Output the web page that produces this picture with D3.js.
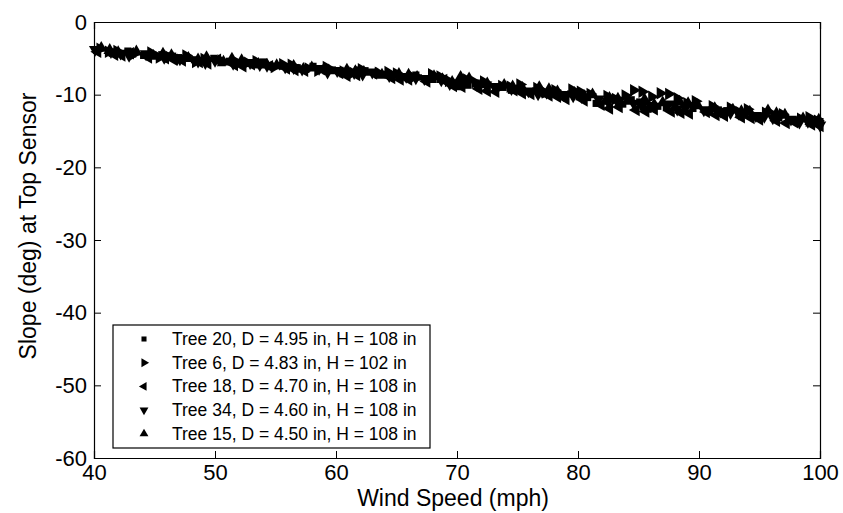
<!DOCTYPE html>
<html>
<head>
<meta charset="utf-8">
<script src="https://cdn.jsdelivr.net/npm/d3@7"></script>
<style>
  body { margin: 0; background: #fff; }
  text { font-family: "Liberation Sans", Arial, Helvetica, sans-serif; fill: #000; }
</style>
</head>
<body>
<div id="chart"></div>
<script>
// tick labels
var xTicks = [40, 50, 60, 70, 80, 90, 100];
var yTicks = [0, -10, -20, -30, -40, -50, -60];

// legend labels
var seriesNames = [
  "Tree 20, D = 4.95 in, H = 108 in",
  "Tree 6, D = 4.83 in, H = 102 in",
  "Tree 18, D = 4.70 in, H = 108 in",
  "Tree 34, D = 4.60 in, H = 108 in",
  "Tree 15, D = 4.50 in, H = 108 in"
];

// wind speed (mph) and slope (deg) per tree
var tree20X = [40.2, 41.5, 42.8, 44.1, 45.6, 47.0, 48.3, 49.9, 51.2, 52.6, 54.0, 55.5, 56.8, 58.1, 59.7, 61.0, 62.4, 63.9, 65.2, 66.6, 68.0, 69.5, 70.9, 72.3, 73.8, 75.1, 76.5, 78.0, 79.4, 80.8, 82.3, 83.7, 85.1, 86.6, 88.0, 89.5, 90.9, 92.3, 93.8, 95.2, 96.6, 98.1, 99.6,
               43.2, 46.5, 50.6, 53.3, 57.5, 61.8, 64.5, 67.4, 70.2, 71.6, 74.5, 77.2, 80.1, 81.5, 84.4, 85.8, 87.3, 91.6, 94.5, 97.4, 100.0];
var tree20Y = [-3.9, -4.3, -4.0, -4.6, -4.5, -4.9, -5.2, -5.0, -5.4, -5.7, -5.5, -6.0, -6.3, -6.1, -6.6, -6.9, -6.7, -7.2, -7.4, -7.3, -7.9, -8.3, -8.7, -8.6, -9.0, -9.3, -9.5, -9.8, -9.9, -10.4, -10.9, -11.3, -11.0, -11.6, -11.4, -11.9, -12.3, -12.2, -12.7, -13.0, -13.2, -13.5, -13.9,
               -4.4, -4.7, -5.6, -5.9, -6.5, -6.6, -7.5, -7.8, -8.9, -8.4, -9.4, -9.9, -10.3, -11.2, -10.7, -12.0, -11.8, -12.1, -12.9, -13.6, -13.7];

var tree6X = [40.5, 41.9, 43.3, 44.7, 46.2, 47.6, 49.1, 50.5, 51.9, 53.4, 54.9, 56.3, 57.7, 59.2, 60.6, 62.1, 63.5, 65.0, 66.4, 67.9, 69.3, 70.8, 72.2, 73.7, 75.2, 76.6, 78.1, 79.5, 81.0, 82.4, 83.9, 85.3, 86.8, 88.2, 89.7, 91.1, 92.6, 94.0, 95.5, 96.9, 98.4, 99.8,
              41.2, 45.4, 48.4, 52.7, 55.6, 58.5, 61.4, 64.3, 68.6, 71.5, 74.4, 77.3, 80.2, 83.1, 84.6, 86.1, 87.5, 89.0, 93.3, 96.2, 99.1];
var tree6Y = [-3.7, -4.0, -4.4, -4.2, -4.8, -4.6, -5.1, -5.3, -5.6, -5.4, -6.2, -5.9, -6.4, -6.2, -6.8, -6.5, -7.0, -7.1, -7.6, -7.2, -8.1, -7.9, -8.2, -8.8, -8.6, -9.1, -9.4, -9.3, -9.9, -10.2, -10.1, -9.6, -9.8, -10.5, -10.9, -11.6, -11.8, -12.0, -12.5, -12.7, -13.3, -13.6,
              -4.1, -4.9, -5.5, -5.6, -5.8, -6.7, -7.0, -6.9, -7.5, -8.3, -8.9, -9.7, -9.6, -10.6, -9.4, -10.3, -9.9, -11.2, -12.4, -12.8, -13.1];

var tree18X = [40.3, 41.7, 43.0, 44.5, 45.9, 47.3, 48.7, 50.2, 51.6, 53.0, 54.5, 55.9, 57.4, 58.8, 60.3, 61.7, 63.1, 64.6, 66.0, 67.5, 68.9, 70.4, 71.8, 73.2, 74.7, 76.1, 77.6, 79.0, 80.5, 81.9, 83.4, 84.8, 86.3, 87.7, 89.2, 90.6, 92.1, 93.5, 95.0, 96.4, 97.9, 99.3,
               42.3, 46.6, 49.4, 52.3, 56.6, 60.9, 65.3, 69.7, 72.5, 75.4, 78.3, 82.6, 85.6, 88.5, 91.4, 94.3, 97.2, 100.0];
var tree18Y = [-4.1, -4.5, -4.3, -4.9, -5.0, -5.3, -5.5, -5.2, -5.9, -5.8, -6.1, -6.4, -6.7, -6.5, -7.0, -7.3, -7.1, -7.7, -7.9, -8.2, -8.0, -8.9, -9.2, -9.6, -9.4, -9.9, -10.1, -10.6, -10.8, -11.4, -11.7, -12.1, -12.0, -12.3, -12.6, -12.4, -12.9, -13.1, -13.4, -13.6, -13.8, -14.1,
               -4.6, -5.2, -5.7, -6.1, -6.6, -7.4, -7.9, -8.8, -9.5, -9.8, -10.3, -11.9, -12.3, -12.5, -12.8, -13.2, -13.9, -14.3];

var tree34X = [40.1, 41.4, 42.9, 44.3, 45.8, 47.1, 48.6, 50.0, 51.5, 52.9, 54.3, 55.8, 57.2, 58.6, 60.1, 61.5, 63.0, 64.4, 65.8, 67.3, 68.7, 70.2, 71.6, 73.1, 74.5, 75.9, 77.4, 78.8, 80.3, 81.7, 83.2, 84.6, 86.0, 87.5, 88.9, 90.4, 91.8, 93.3, 94.7, 96.1, 97.6, 99.0, 100.0,
               42.2, 46.9, 49.2, 53.7, 56.5, 59.3, 62.2, 66.6, 69.4, 72.4, 76.7, 79.6, 82.5, 85.3, 88.2, 92.6, 95.4, 98.3];
var tree34Y = [-3.8, -4.1, -4.6, -4.4, -4.9, -5.1, -5.4, -5.3, -5.7, -5.6, -6.0, -6.2, -6.5, -6.4, -6.7, -7.0, -6.9, -7.4, -7.5, -7.8, -8.0, -8.4, -8.6, -8.9, -9.2, -9.5, -9.7, -10.0, -10.3, -10.6, -10.8, -11.2, -11.5, -11.3, -11.8, -12.1, -12.3, -12.6, -12.9, -13.2, -13.4, -13.7, -14.2,
               -4.3, -5.0, -5.6, -5.9, -6.3, -6.9, -7.2, -7.7, -8.5, -8.7, -9.9, -10.2, -11.0, -11.6, -12.0, -12.5, -13.0, -13.8];

var tree15X = [40.6, 42.0, 43.5, 44.9, 46.4, 47.8, 49.3, 50.7, 52.2, 53.6, 55.1, 56.5, 58.0, 59.4, 60.9, 62.3, 63.8, 65.2, 66.7, 68.1, 69.6, 71.0, 72.5, 73.9, 75.4, 76.8, 78.3, 79.7, 81.2, 82.6, 84.1, 85.5, 87.0, 88.4, 89.9, 91.3, 92.8, 94.2, 95.7, 97.1, 98.6, 99.9,
               41.3, 45.7, 48.6, 51.4, 54.3, 57.3, 61.6, 66.0, 68.8, 70.3, 74.6, 77.6, 80.5, 83.3, 86.3, 89.1, 93.5, 96.4, 99.3];
var tree15Y = [-3.6, -4.2, -4.1, -4.7, -4.6, -5.0, -4.9, -5.5, -5.3, -5.8, -6.0, -6.1, -6.3, -6.7, -6.6, -6.9, -7.3, -7.2, -7.6, -7.5, -8.3, -7.8, -8.5, -8.7, -9.1, -9.0, -9.6, -9.8, -10.0, -10.5, -10.9, -10.7, -11.1, -11.0, -11.5, -11.9, -12.1, -12.4, -12.2, -12.8, -13.3, -13.5,
               -3.9, -4.4, -5.2, -5.1, -5.9, -6.5, -6.8, -7.3, -7.9, -7.6, -8.9, -9.3, -10.2, -10.6, -11.4, -11.2, -12.3, -12.6, -13.9];

var seriesX = [tree20X, tree6X, tree18X, tree34X, tree15X];
var seriesY = [tree20Y, tree6Y, tree18Y, tree34Y, tree15Y];

// marker type per series: square, right, left, down, up
var markerShape = ["square", "right", "left", "down", "up"];

var W = 843, H = 513;
var margin = {top: 22, right: 23, bottom: 55, left: 94};
var w = W - margin.left - margin.right,
    h = H - margin.top - margin.bottom;

var svg = d3.select("#chart").append("svg")
  .attr("width", W).attr("height", H);

var xscale = d3.scaleLinear().domain([40, 100]).range([0, w]);
var yscale = d3.scaleLinear().domain([-60, 0]).range([h, 0]);

var g = svg.append("g")
  .attr("transform", "translate(" + margin.left + "," + margin.top + ")");

// marker path builder
function markerPath(shape, s) {
  if (shape == "square") return d3.symbol().type(d3.symbolSquare).size(s * 0.75)();
  return d3.symbol().type(d3.symbolTriangle).size(s)();
}
function markerRotate(shape) {
  if (shape == "right") return 90;
  if (shape == "left") return -90;
  if (shape == "down") return 180;
  return 0;
}

// points
seriesX.forEach(function(xs, k) {
  var pts = xs.map(function(x, i) { return {x: x, y: seriesY[k][i]}; });
  g.append("g").selectAll("path")
    .data(pts)
    .enter().append("path")
    .attr("d", markerPath(markerShape[k], 68))
    .attr("transform", function(d) {
      return "translate(" + xscale(d.x) + "," + yscale(d.y) + ") rotate(" + markerRotate(markerShape[k]) + ")";
    })
    .attr("fill", "#000");
});

// axes, ticks pointing inward, box on
var tickLen = 7;
var fmt = function(d) { return String(d); };
var xAxis = d3.axisBottom(xscale).tickValues(xTicks).tickSize(-tickLen).tickPadding(6).tickFormat(fmt);
var yAxis = d3.axisLeft(yscale).tickValues(yTicks).tickSize(-tickLen).tickPadding(7).tickFormat(fmt);
var xTop = d3.axisTop(xscale).tickValues(xTicks).tickSize(-tickLen).tickFormat("");
var yRight = d3.axisRight(yscale).tickValues(yTicks).tickSize(-tickLen).tickFormat("");

g.append("g").attr("transform", "translate(0," + h + ")").call(xAxis);
g.append("g").call(yAxis);
g.append("g").call(xTop);
g.append("g").attr("transform", "translate(" + w + ",0)").call(yRight);

g.selectAll(".domain").attr("stroke", "#000").attr("stroke-width", 1.2);
g.selectAll(".tick line").attr("stroke", "#000").attr("stroke-width", 1);
g.selectAll(".tick text").attr("font-size", 22).attr("font-family", "Liberation Sans, Arial, sans-serif");

// axis titles
svg.append("text")
  .attr("x", 453).attr("y", 506)
  .attr("text-anchor", "middle").attr("font-size", 23)
  .text("Wind Speed (mph)");

svg.append("text")
  .attr("transform", "translate(" + 36 + "," + 226 + ") rotate(-90)")
  .attr("text-anchor", "middle").attr("font-size", 23)
  .text("Slope (deg) at Top Sensor");

// legend
var lg = g.append("g").attr("transform", "translate(19,303)");
var rowH = 23.7;
lg.append("rect")
  .attr("x", 0).attr("y", 0)
  .attr("width", 317).attr("height", 123)
  .attr("fill", "#fff").attr("stroke", "#000").attr("stroke-width", 1.2);

seriesNames.forEach(function(name, k) {
  var cy = 14 + k * rowH;
  lg.append("path")
    .attr("d", markerPath(markerShape[k], 34))
    .attr("transform", "translate(31," + cy + ") rotate(" + markerRotate(markerShape[k]) + ")")
    .attr("fill", "#000");
  lg.append("text")
    .attr("x", 59).attr("y", cy + 6)
    .attr("font-size", 17.5)
    .text(name);
});
</script>
</body>
</html>
